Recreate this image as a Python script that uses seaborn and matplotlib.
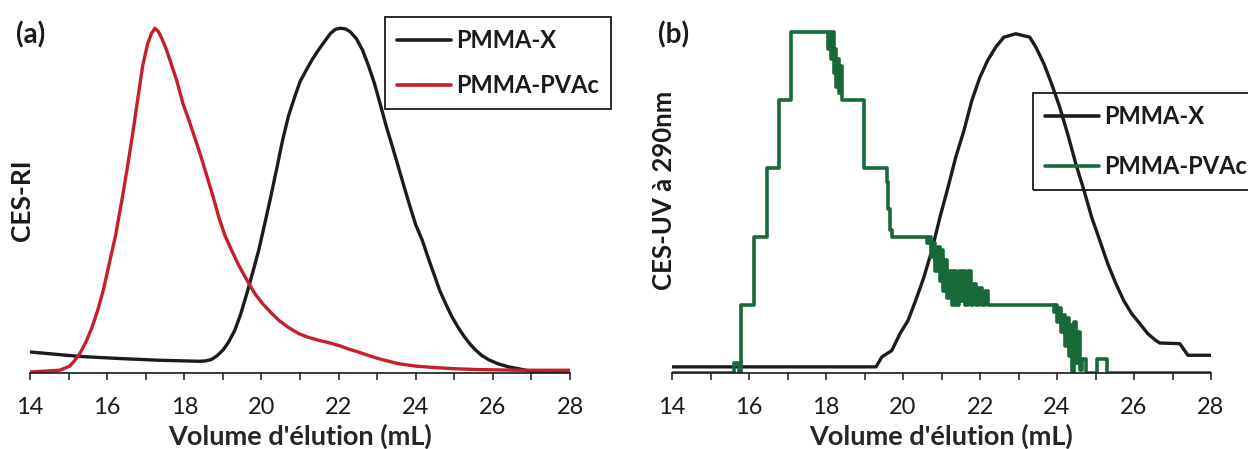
import matplotlib
matplotlib.use("Agg")
import matplotlib.pyplot as plt
import seaborn as sns
import pandas as pd
from matplotlib.ticker import MultipleLocator

# ── Data ──────────────────────────────────────────────────────────────────────
# (a) refractive-index detector, normalised
ri_pvac_x = [14.0, 14.77, 15.03, 15.15, 15.29, 15.45, 15.6, 15.75, 15.9, 16.06,
             16.22, 16.38, 16.53, 16.67, 16.8, 16.92, 17.05, 17.15, 17.24, 17.33,
             17.42, 17.53, 17.63, 17.8, 17.97, 18.13, 18.28, 18.44, 18.59, 18.75,
             18.9, 19.05, 19.21, 19.4, 19.62, 19.83, 20.04, 20.25, 20.45, 20.7,
             20.97, 21.2, 21.48, 21.75, 22.0, 22.25, 22.51, 22.77, 23.03, 23.3,
             23.55, 24.0, 24.58, 25.1, 25.6, 26.64, 28.0]
ri_pvac_y = [0.003, 0.008, 0.02, 0.035, 0.056, 0.09, 0.13, 0.18, 0.24, 0.32,
             0.40, 0.50, 0.60, 0.70, 0.80, 0.89, 0.955, 0.985, 1.0, 0.99,
             0.97, 0.94, 0.907, 0.85, 0.78, 0.73, 0.68, 0.625, 0.57, 0.51,
             0.45, 0.40, 0.36, 0.315, 0.27, 0.23, 0.20, 0.175, 0.153, 0.132,
             0.114, 0.104, 0.095, 0.088, 0.080, 0.07, 0.061, 0.051, 0.042, 0.034,
             0.027, 0.02, 0.015, 0.012, 0.010, 0.008, 0.008]

ri_x_x = [14.0, 15.29, 16.32, 17.35, 18.39, 18.55, 18.7, 18.85, 19.0, 19.15,
          19.31, 19.46, 19.62, 19.77, 19.93, 20.08, 20.24, 20.4, 20.55, 20.7,
          20.86, 21.0, 21.17, 21.32, 21.48, 21.64, 21.79, 21.92, 22.05, 22.18,
          22.3, 22.46, 22.62, 22.78, 22.93, 23.08, 23.24, 23.4, 23.55, 23.7,
          23.86, 24.0, 24.17, 24.32, 24.47, 24.62, 24.78, 24.93, 25.09, 25.25,
          25.4, 25.55, 25.71, 25.9, 26.13, 26.4, 26.64, 26.9, 27.16, 27.47,
          27.75, 28.0]
ri_x_y = [0.061, 0.048, 0.042, 0.037, 0.034, 0.035, 0.039, 0.05, 0.066, 0.09,
          0.124, 0.17, 0.23, 0.29, 0.356, 0.43, 0.51, 0.595, 0.676, 0.745,
          0.80, 0.845, 0.88, 0.91, 0.937, 0.962, 0.985, 0.997, 1.0, 0.998,
          0.99, 0.97, 0.937, 0.89, 0.84, 0.78, 0.714, 0.655, 0.598, 0.54,
          0.48, 0.43, 0.385, 0.335, 0.288, 0.24, 0.20, 0.165, 0.134, 0.107,
          0.085, 0.067, 0.051, 0.038, 0.027, 0.018, 0.013, 0.007, 0.003, 0.0,
          0.004, 0.006]

# (b) UV detector at 290 nm, normalised
uv_x_x = [14.0, 19.3, 19.45, 19.71, 19.92, 20.13, 20.33, 20.54, 20.75, 20.96,
          21.17, 21.37, 21.58, 21.79, 22.0, 22.2, 22.41, 22.62, 22.93, 23.29,
          23.45, 23.66, 23.86, 24.07, 24.28, 24.49, 24.7, 24.9, 25.11, 25.32,
          25.53, 25.73, 25.94, 26.15, 26.36, 26.56, 26.67, 27.19, 27.4, 28.0]
uv_x_y = [0.018, 0.018, 0.047, 0.066, 0.115, 0.154, 0.213, 0.28, 0.36, 0.457,
          0.545, 0.633, 0.71, 0.80, 0.868, 0.917, 0.956, 0.985, 0.995, 0.985,
          0.956, 0.907, 0.848, 0.78, 0.70, 0.613, 0.536, 0.457, 0.389, 0.32,
          0.262, 0.213, 0.174, 0.145, 0.115, 0.096, 0.088, 0.086, 0.052, 0.052]

uv_pvac_x = [14.0, 15.62, 15.75, 15.8, 16.13, 16.47, 16.78, 17.1,
             18.05, 18.1, 18.13, 18.17, 18.2, 18.24, 18.27, 18.3, 18.33, 18.37, 18.41,
             18.98, 19.58, 19.62, 19.66, 19.72,
             20.62, 20.68, 20.72, 20.78, 20.84, 20.9, 20.95, 21.0, 21.05, 21.1,
             21.15, 21.22, 21.27, 21.33, 21.38, 21.45, 21.5, 21.57, 21.62, 21.7,
             21.76, 21.83, 21.9, 21.97, 22.05, 22.12, 22.2,
             23.92, 23.96, 24.0, 24.05, 24.1, 24.15, 24.2, 24.25, 24.3, 24.35,
             24.4, 24.45, 24.5, 24.55, 24.6, 24.65, 24.75, 25.05, 25.3, 28.0]
uv_pvac_y = [0.0, 0.03, 0.0, 0.2, 0.4, 0.6, 0.8, 1.0,
             0.95, 1.0, 0.92, 1.0, 0.88, 0.95, 0.84, 0.92, 0.82, 0.9, 0.8,
             0.6, 0.56, 0.48, 0.42, 0.4,
             0.38, 0.4, 0.34, 0.38, 0.3, 0.37, 0.27, 0.36, 0.24, 0.33,
             0.22, 0.3, 0.2, 0.3, 0.2, 0.3, 0.21, 0.3, 0.2, 0.3,
             0.2, 0.26, 0.2, 0.25, 0.2, 0.24, 0.2,
             0.18, 0.2, 0.15, 0.19, 0.12, 0.17, 0.08, 0.16, 0.05, 0.14,
             0.0, 0.15, 0.03, 0.12, 0.01, 0.04, 0.0, 0.04, 0.0, 0.0]

labels = ["PMMA-X", "PMMA-PVAc"]
BLACK, RED, GREEN = "#1c1c1c", "#c41f2a", "#17693a"

# ── Style ─────────────────────────────────────────────────────────────────────
sns.set_theme(style="white")
plt.rcParams["font.family"] = ["Lato", "DejaVu Sans"]
plt.rcParams["text.color"] = "#1a1a1a"

W, H = 1248, 449
fig = plt.figure(figsize=(W / 100, H / 100), dpi=100)
ax1 = fig.add_axes([30 / W, 76 / H, 540 / W, 362 / H])
ax2 = fig.add_axes([672 / W, 76 / H, 539 / W, 358 / H])

# ── (a) CES-RI ────────────────────────────────────────────────────────────────
df_a1 = pd.DataFrame({"v": ri_x_x, "s": ri_x_y})
df_a2 = pd.DataFrame({"v": ri_pvac_x, "s": ri_pvac_y})
sns.lineplot(data=df_a1, x="v", y="s", ax=ax1, color=BLACK, lw=2.4,
             estimator=None, sort=False, label=labels[0])
sns.lineplot(data=df_a2, x="v", y="s", ax=ax1, color=RED, lw=2.4,
             estimator=None, sort=False, label=labels[1])

# ── (b) CES-UV ────────────────────────────────────────────────────────────────
df_b1 = pd.DataFrame({"v": uv_x_x, "s": uv_x_y})
df_b2 = pd.DataFrame({"v": uv_pvac_x, "s": uv_pvac_y})
sns.lineplot(data=df_b1, x="v", y="s", ax=ax2, color=BLACK, lw=2.4,
             estimator=None, sort=False, label=labels[0])
sns.lineplot(data=df_b2, x="v", y="s", ax=ax2, color=GREEN, lw=2.6,
             estimator=None, sort=False, label=labels[1], drawstyle="steps-post")

axis_px = {ax1: 362, ax2: 358}
for ax in (ax1, ax2):
    ax.set_xlim(14, 28)
    ax.set_ylim(0, 1.05)
    ax.set_facecolor("none")
    for side in ("top", "right", "left"):
        ax.spines[side].set_visible(False)
    ax.spines["bottom"].set_color("#1a1a1a")
    ax.spines["bottom"].set_linewidth(1.2)
    ax.xaxis.set_major_locator(MultipleLocator(2))
    ax.xaxis.set_minor_locator(MultipleLocator(1))
    ax.tick_params(axis="x", which="both", bottom=True, direction="out",
                   length=5, width=1.1, color="#1a1a1a")
    ax.tick_params(axis="x", which="major", labelsize=17, pad=12.5,
                   labelcolor="#1a1a1a")
    ax.set_yticks([])
    ax.set_ylabel("")
    ax.set_xlabel("Volume d'élution (mL)", fontsize=19.5, fontweight="bold")
    ax.xaxis.label.set_va("baseline")
    ax.xaxis.set_label_coords(0.5, -72 / axis_px[ax])

leg_kw = dict(loc="upper left", bbox_transform=fig.transFigure,
              prop={"weight": "bold", "size": 17}, fancybox=False,
              edgecolor="#1a1a1a", handlelength=2.3, handletextpad=0.2,
              borderpad=0.5, borderaxespad=0)
leg1 = ax1.legend(bbox_to_anchor=(385 / W, 1 - 17 / H), labelspacing=0.95,
                  **leg_kw)
leg2 = ax2.legend(bbox_to_anchor=(1033 / W, 1 - 93 / H), labelspacing=1.17,
                  **leg_kw)
leg1.get_frame().set_facecolor("white")
leg2.get_frame().set_facecolor("none")
for leg in (leg1, leg2):
    leg.get_frame().set_alpha(None)
    leg.get_frame().set_edgecolor("#1a1a1a")
    leg.get_frame().set_linewidth(1.3)
    for ln in leg.get_lines():
        ln.set_linewidth(2.6)

# y labels and panel tags
fig.text(22 / W, 1 - 200 / H, "CES-RI", rotation=90, ha="center", va="center",
         fontsize=19, fontweight="bold")
fig.text(664 / W, 1 - 190 / H, "CES-UV à 290nm", rotation=90, ha="center",
         va="center", fontsize=18.5, fontweight="bold")
fig.text(16 / W, 1 - 35 / H, "(a)", ha="left", va="center", fontsize=20,
         fontweight="bold")
fig.text(658 / W, 1 - 35 / H, "(b)", ha="left", va="center", fontsize=20,
         fontweight="bold")

fig.savefig("out.png", dpi=100)
